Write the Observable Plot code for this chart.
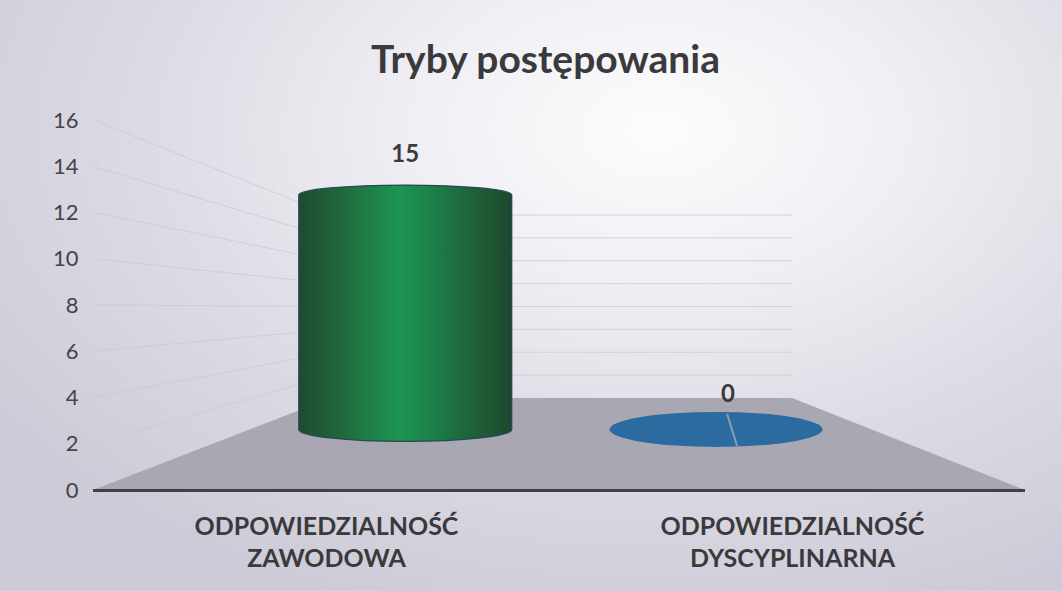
<!DOCTYPE html>
<html><head><meta charset="utf-8">
<script src="https://cdn.jsdelivr.net/npm/d3@7"></script>
<script src="https://cdn.jsdelivr.net/npm/@observablehq/plot@0.6"></script>
<style>
html,body{margin:0;padding:0;}
#chart{width:1062px;height:591px;overflow:hidden;
background: radial-gradient(ellipse 75% 85% at 62% 22%, #fcfcfd 0%, #f0eff4 30%, #dcdbe4 65%, #cdcbd7 100%);}
</style></head><body><div id="chart"></div>
<script>
// ---- data ----
const title = "Tryby postępowania";
const categories = ["ODPOWIEDZIALNOŚĆ ZAWODOWA", "ODPOWIEDZIALNOŚĆ DYSCYPLINARNA"];
const labelLines = [["ODPOWIEDZIALNOŚĆ", "ZAWODOWA"], ["ODPOWIEDZIALNOŚĆ", "DYSCYPLINARNA"]];
const values = [15, 0];
const yTicks = [0, 2, 4, 6, 8, 10, 12, 14, 16];
const barColors = ["green", "blue"];

const data = categories.map((c, i) => ({category: c, value: values[i], color: barColors[i]}));

// ---- style / 3D look ----
const W = 1062, H = 591;
const VP = [564, 308];     // vanishing point (pixels)
const BACK = 0.4946;       // scale of the back wall
const MID = 0.667;         // scale of the depth where the bars stand
const BAR_FRAC = 0.685;    // fraction of band used by cylinder
const FONT = "Lato, 'Open Sans', sans-serif";
const TEXT = "#3a3a3c";

function scene(index, scales, values, dims) {
  const {x, y} = scales;
  const X0 = dims.marginLeft, X1 = dims.width - dims.marginRight;
  const proj = (px, py, s) => [VP[0] + s * (px - VP[0]), VP[1] + s * (py - VP[1])];
  const g = d3.create("svg:g");
  const defs = g.append("defs");
  const gr = defs.append("linearGradient").attr("id", "cylGreen").attr("x1", 0).attr("x2", 1).attr("y1", 0).attr("y2", 0);
  [[0, "#1d4b2f"], [0.12, "#205c37"], [0.3, "#1f7a43"], [0.47, "#1d9552"], [0.62, "#1c8149"], [0.85, "#1f5d36"], [1, "#1c472c"]]
    .forEach(([o, c]) => gr.append("stop").attr("offset", o).attr("stop-color", c));

  // floor
  const fl = [proj(X0, y(0), 1), proj(X1, y(0), 1), proj(X1, y(0), BACK), proj(X0, y(0), BACK)];
  g.append("polygon").attr("points", fl.map(p => p.join(",")).join(" ")).attr("fill", "#a9a8b2");

  // wall gridlines
  for (const t of yTicks.filter(t => t > 0)) {
    const a = proj(X0, y(t), 1), b = proj(X0, y(t), BACK), c = proj(X1, y(t), BACK);
    g.append("path").attr("d", `M${a}L${b}L${c}`).attr("fill", "none")
      .attr("stroke", "#c9c8d1").attr("stroke-width", 1).attr("opacity", 0.75);
  }

  const bw = x.bandwidth();
  data.forEach((d) => {
    const cx0 = x(d.category) + bw / 2;
    const base = proj(cx0, y(0), MID);
    const top = proj(cx0, y(d.value), MID);
    const r = bw * BAR_FRAC / 2 * MID;
    const cx = base[0];
    if (d.value > 0) {
      const ryT = 10, ryB = 12;
      const path = `M${cx - r},${top[1] - 3} A${r},${ryT} 0 0 1 ${cx + r},${top[1] - 3} L${cx + r},${base[1]} A${r},${ryB} 0 0 1 ${cx - r},${base[1]} Z`;
      g.append("path").attr("d", path).attr("fill", "url(#cylGreen)")
        .attr("stroke", "#27475a").attr("stroke-width", 1.3);
      g.append("text").attr("x", cx).attr("y", top[1] - 36).attr("text-anchor", "middle")
        .attr("font-family", FONT).attr("font-weight", "bold").attr("font-size", 24).attr("fill", TEXT)
        .text(d.value);
    } else {
      const ry = 17.5;
      g.append("ellipse").attr("cx", cx).attr("cy", base[1]).attr("rx", r).attr("ry", ry).attr("fill", "#2b6b9f");
      g.append("line").attr("x1", cx + 11).attr("y1", base[1] - ry + 2).attr("x2", cx + 21).attr("y2", base[1] + ry - 1)
        .attr("stroke", "#8c9aac").attr("stroke-width", 2);
      g.append("text").attr("x", cx + 12).attr("y", base[1] - 27).attr("text-anchor", "middle")
        .attr("font-family", FONT).attr("font-weight", "bold").attr("font-size", 24).attr("fill", TEXT)
        .text(d.value);
    }
  });
  return g.node();
}

const chart = Plot.plot({
  width: W, height: H,
  marginLeft: 93, marginRight: W - 1025, marginTop: 120, marginBottom: H - 490,
  style: {background: "transparent", fontFamily: FONT, color: TEXT, overflow: "visible"},
  x: {type: "band", domain: categories, padding: 0, axis: null},
  y: {domain: [0, 16], axis: null},
  marks: [
    scene,
    Plot.ruleY([0], {stroke: "#38463f", strokeWidth: 3.2}),
    Plot.axisY({ticks: yTicks, tickSize: 0, tickPadding: 15, fontSize: 22, label: null, fill: "#444448"}),
    Plot.text(data, {x: "category", frameAnchor: "bottom", dy: 22, lineAnchor: "top",
      text: (d, i) => labelLines[i].join("\n"), fontSize: 25, fontWeight: "bold", lineHeight: 1.28, fill: TEXT}),
    Plot.text([title], {frameAnchor: "top", dy: -48, dx: -14, lineAnchor: "bottom",
      fontSize: 39, fontWeight: "bold", fill: TEXT})
  ]
});
document.getElementById("chart").appendChild(chart);
</script></body></html>
